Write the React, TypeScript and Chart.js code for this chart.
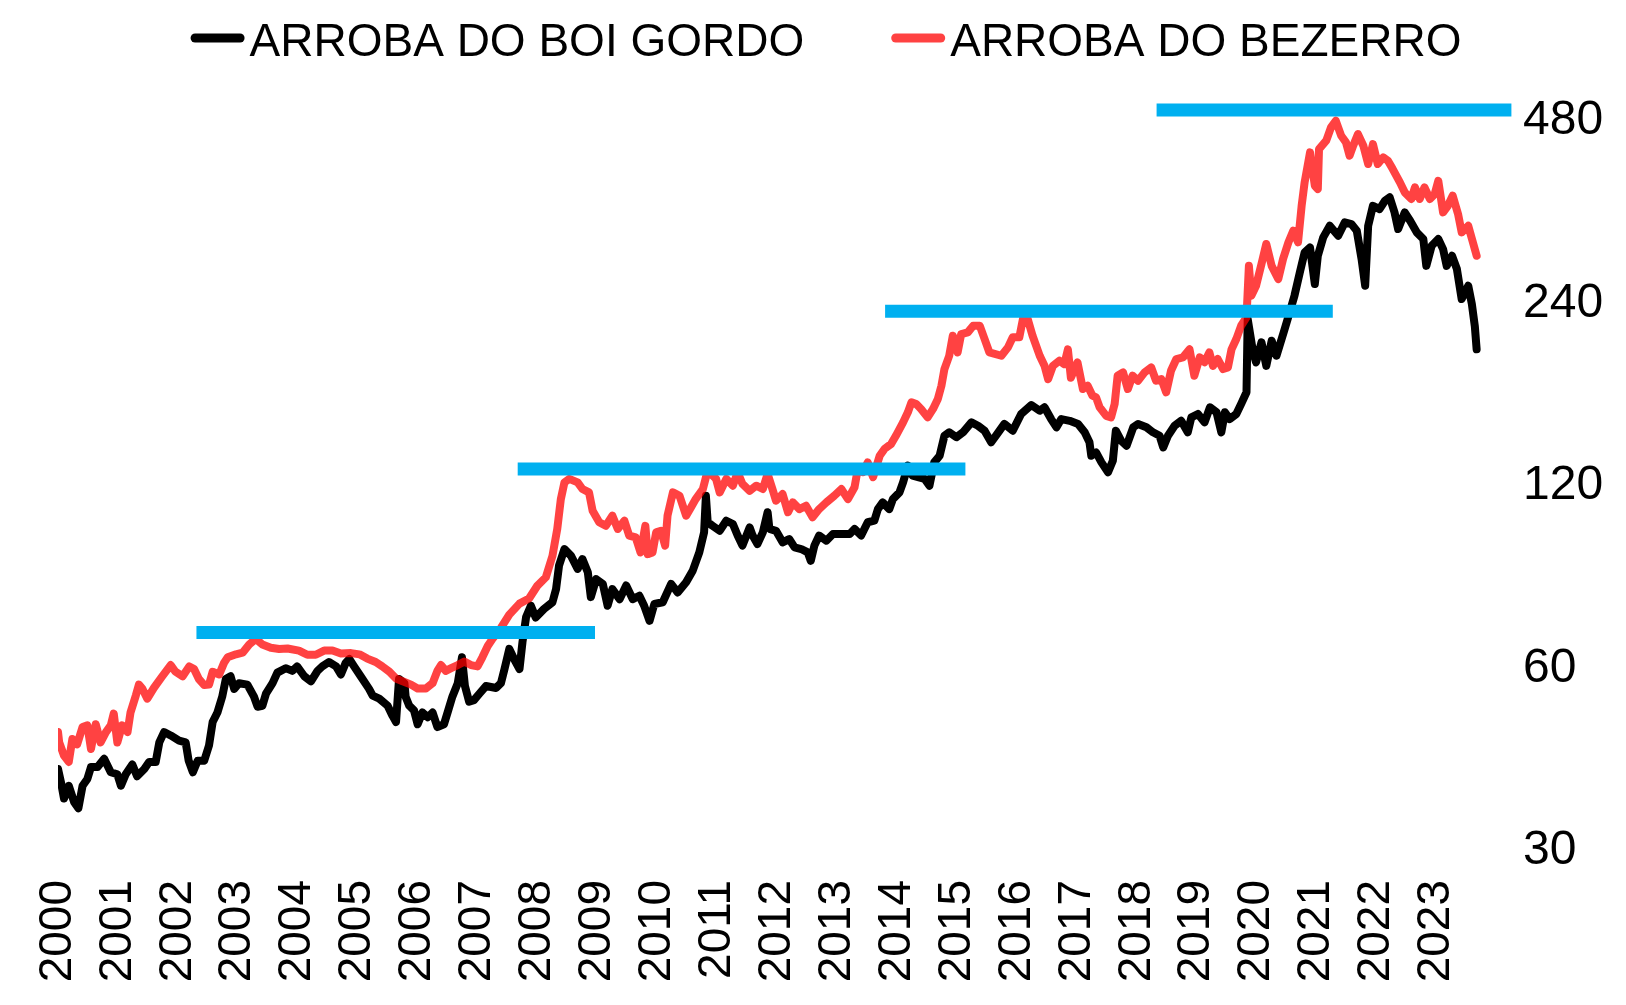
import React, { useEffect, useRef } from 'react';
import { Chart, registerables } from 'chart.js';

Chart.register(...registerables);

const FONT = '"Liberation Sans", Arial, Helvetica, sans-serif';

const seriesNames = ['ARROBA DO BOI GORDO', 'ARROBA DO BEZERRO'];
const seriesColors = ['#000000', 'rgba(255,0,0,0.74)'];
const levelColor = '#00B0F0';

const yearTicks = [2000, 2001, 2002, 2003, 2004, 2005, 2006, 2007, 2008, 2009, 2010, 2011,
  2012, 2013, 2014, 2015, 2016, 2017, 2018, 2019, 2020, 2021, 2022, 2023];
const yearLabels = ['2000', '2001', '2002', '2003', '2004', '2005', '2006', '2007', '2008', '2009',
  '2010', '2011', '2012', '2013', '2014', '2015', '2016', '2017', '2018', '2019', '2020', '2021',
  '2022', '2023'];
const yTickValues = [30, 60, 120, 240, 480];
const yTickLabels = ['30', '60', '120', '240', '480'];

// Arroba do boi gordo (R$)
const boiDates = [
  2000.00, 2000.05, 2000.10, 2000.18, 2000.27, 2000.34, 2000.41, 2000.49, 2000.55, 2000.66,
  2000.77, 2000.88, 2000.99, 2001.05, 2001.13, 2001.24, 2001.32, 2001.44, 2001.52, 2001.63,
  2001.69, 2001.77, 2001.88, 2002.02, 2002.13, 2002.18, 2002.25, 2002.33, 2002.44, 2002.52,
  2002.58, 2002.66, 2002.74, 2002.80, 2002.88, 2002.94, 2003.02, 2003.16, 2003.27, 2003.33,
  2003.41, 2003.47, 2003.58, 2003.66, 2003.80, 2003.91, 2003.99, 2004.11, 2004.22, 2004.33,
  2004.41, 2004.52, 2004.64, 2004.72, 2004.80, 2004.86, 2004.94, 2005.05, 2005.19, 2005.25,
  2005.36, 2005.50, 2005.58, 2005.64, 2005.69, 2005.78, 2005.80, 2005.86, 2005.94, 2006.00,
  2006.08, 2006.17, 2006.25, 2006.33, 2006.44, 2006.50, 2006.58, 2006.67, 2006.74, 2006.79,
  2006.86, 2006.94, 2007.03, 2007.14, 2007.31, 2007.39, 2007.45, 2007.53, 2007.61, 2007.70,
  2007.75, 2007.81, 2007.89, 2007.97, 2008.11, 2008.25, 2008.31, 2008.36, 2008.45, 2008.56,
  2008.67, 2008.75, 2008.84, 2008.89, 2008.98, 2009.09, 2009.17, 2009.25, 2009.37, 2009.48,
  2009.59, 2009.70, 2009.78, 2009.87, 2009.95, 2010.09, 2010.23, 2010.34, 2010.48, 2010.59,
  2010.70, 2010.78, 2010.81, 2010.84, 2010.92, 2011.04, 2011.15, 2011.26, 2011.34, 2011.42,
  2011.54, 2011.59, 2011.67, 2011.76, 2011.84, 2011.87, 2011.98, 2012.09, 2012.20, 2012.29,
  2012.40, 2012.51, 2012.56, 2012.62, 2012.70, 2012.82, 2012.93, 2013.07, 2013.21, 2013.29,
  2013.40, 2013.51, 2013.62, 2013.68, 2013.76, 2013.87, 2013.93, 2014.04, 2014.10, 2014.18,
  2014.26, 2014.35, 2014.46, 2014.54, 2014.62, 2014.71, 2014.79, 2014.87, 2014.99, 2015.10,
  2015.24, 2015.35, 2015.46, 2015.57, 2015.68, 2015.79, 2015.93, 2016.07, 2016.24, 2016.38,
  2016.46, 2016.57, 2016.66, 2016.74, 2016.88, 2017.02, 2017.13, 2017.21, 2017.24, 2017.32,
  2017.41, 2017.52, 2017.60, 2017.65, 2017.74, 2017.83, 2017.94, 2018.02, 2018.16, 2018.27,
  2018.38, 2018.44, 2018.52, 2018.63, 2018.74, 2018.85, 2018.91, 2019.02, 2019.13, 2019.22,
  2019.33, 2019.41, 2019.47, 2019.55, 2019.66, 2019.74, 2019.83, 2019.85, 2019.94, 2019.99,
  2020.08, 2020.16, 2020.25, 2020.33, 2020.45, 2020.55, 2020.63, 2020.72, 2020.80, 2020.89,
  2020.97, 2021.02, 2021.11, 2021.22, 2021.36, 2021.47, 2021.58, 2021.67, 2021.75, 2021.81,
  2021.86, 2021.94, 2022.05, 2022.14, 2022.22, 2022.30, 2022.36, 2022.47, 2022.56, 2022.67,
  2022.78, 2022.83, 2022.92, 2023.03, 2023.11, 2023.17, 2023.26, 2023.34, 2023.42, 2023.53,
  2023.59, 2023.64, 2023.67,
];
const boiValues = [
  40.5, 38.5, 36.2, 38.0, 35.7, 34.9, 38.0, 39.0, 40.8, 40.8,
  42.1, 40.0, 39.7, 38.0, 39.7, 41.2, 39.4, 40.5, 41.6, 41.6,
  44.8, 46.6, 46.0, 45.1, 44.8, 41.8, 40.0, 41.8, 41.8, 44.3,
  48.4, 50.2, 53.3, 57.0, 57.6, 54.9, 56.1, 55.8, 53.3, 51.3,
  51.5, 53.9, 56.1, 58.4, 59.4, 58.8, 59.8, 57.6, 56.5, 58.8,
  59.8, 60.8, 59.8, 58.0, 60.6, 61.5, 59.8, 57.6, 54.9, 53.5,
  52.9, 51.5, 49.6, 48.4, 57.0, 56.1, 53.3, 51.5, 50.6, 48.0,
  50.2, 49.3, 50.2, 47.5, 48.0, 50.2, 53.3, 56.1, 61.9, 55.5,
  52.3, 52.6, 53.9, 55.5, 55.1, 56.1, 59.2, 63.9, 61.5, 59.2,
  65.6, 72.1, 75.3, 72.0, 74.4, 76.3, 80.2, 87.7, 93.4, 91.0,
  86.6, 89.9, 85.5, 77.8, 83.3, 81.8, 75.3, 80.2, 77.2, 81.3,
  77.2, 78.2, 75.3, 71.1, 75.8, 76.3, 81.8, 79.2, 82.3, 86.0,
  92.2, 99.5, 114.3, 103.4, 102.0, 100.1, 104.0, 102.7, 98.3, 94.6,
  101.4, 98.3, 95.2, 99.5, 107.4, 100.8, 100.1, 95.8, 97.0, 94.0,
  93.4, 92.2, 89.3, 94.6, 98.3, 96.4, 98.9, 98.9, 98.9, 100.8,
  98.3, 103.4, 104.0, 108.7, 111.5, 108.7, 112.9, 115.8, 120.3, 128.2,
  123.4, 122.7, 121.9, 118.8, 129.8, 133.1, 143.6, 145.5, 142.8, 145.5,
  151.1, 149.2, 146.4, 140.1, 145.0, 150.2, 146.4, 156.0, 161.4, 157.9,
  160.0, 153.0, 148.3, 153.0, 152.0, 150.2, 145.5, 140.1, 133.1, 134.8,
  129.8, 125.0, 130.6, 146.4, 140.9, 138.3, 148.3, 150.2, 148.3, 145.5,
  143.6, 137.4, 143.6, 149.2, 152.0, 145.5, 154.0, 156.0, 151.1, 160.0,
  157.0, 145.5, 157.0, 153.0, 156.0, 162.0, 169.4, 223.7, 197.1, 189.8,
  204.8, 187.3, 206.0, 194.6, 212.7, 229.5, 244.4, 267.1, 288.2, 293.7,
  255.5, 284.5, 305.1, 318.8, 307.0, 323.0, 320.9, 312.9, 281.0, 253.9,
  318.8, 344.0, 339.7, 350.6, 355.2, 335.5, 314.9, 335.5, 325.0, 311.0,
  303.2, 273.8, 295.5, 303.2, 291.8, 273.8, 284.5, 270.6, 241.4, 253.9,
  236.8, 217.6, 199.4,
];

// Arroba do bezerro (R$)
const bezDates = [
  2000.00, 2000.02, 2000.10, 2000.18, 2000.24, 2000.32, 2000.41, 2000.49, 2000.55, 2000.63,
  2000.71, 2000.80, 2000.88, 2000.93, 2000.99, 2001.07, 2001.16, 2001.21, 2001.30, 2001.35,
  2001.41, 2001.49, 2001.60, 2001.74, 2001.88, 2001.96, 2002.08, 2002.19, 2002.27, 2002.35,
  2002.44, 2002.52, 2002.58, 2002.69, 2002.77, 2002.83, 2002.97, 2003.08, 2003.19, 2003.30,
  2003.41, 2003.55, 2003.69, 2003.83, 2004.02, 2004.16, 2004.30, 2004.44, 2004.58, 2004.72,
  2004.89, 2005.03, 2005.16, 2005.30, 2005.41, 2005.53, 2005.64, 2005.75, 2005.89, 2006.00,
  2006.14, 2006.25, 2006.33, 2006.39, 2006.47, 2006.56, 2006.67, 2006.78, 2006.89, 2007.00,
  2007.08, 2007.17, 2007.25, 2007.39, 2007.53, 2007.70, 2007.86, 2008.00, 2008.14, 2008.25,
  2008.33, 2008.39, 2008.45, 2008.53, 2008.67, 2008.75, 2008.86, 2008.92, 2009.03, 2009.14,
  2009.25, 2009.34, 2009.45, 2009.53, 2009.64, 2009.72, 2009.80, 2009.84, 2009.92, 2009.98,
  2010.06, 2010.13, 2010.17, 2010.26, 2010.37, 2010.48, 2010.56, 2010.64, 2010.76, 2010.84,
  2010.98, 2011.04, 2011.15, 2011.26, 2011.34, 2011.42, 2011.54, 2011.65, 2011.76, 2011.84,
  2011.92, 2011.98, 2012.09, 2012.18, 2012.26, 2012.37, 2012.48, 2012.59, 2012.70, 2012.82,
  2012.95, 2013.07, 2013.18, 2013.29, 2013.34, 2013.43, 2013.51, 2013.60, 2013.71, 2013.79,
  2013.90, 2013.98, 2014.10, 2014.18, 2014.24, 2014.32, 2014.40, 2014.51, 2014.60, 2014.68,
  2014.74, 2014.79, 2014.87, 2014.93, 2015.01, 2015.07, 2015.18, 2015.27, 2015.38, 2015.46,
  2015.54, 2015.74, 2015.85, 2015.93, 2016.04, 2016.10, 2016.18, 2016.26, 2016.38, 2016.46,
  2016.52, 2016.60, 2016.71, 2016.79, 2016.85, 2016.90, 2017.01, 2017.10, 2017.18, 2017.26,
  2017.32, 2017.38, 2017.49, 2017.57, 2017.63, 2017.68, 2017.77, 2017.85, 2017.93, 2018.02,
  2018.13, 2018.24, 2018.32, 2018.41, 2018.49, 2018.57, 2018.66, 2018.77, 2018.88, 2018.96,
  2019.05, 2019.13, 2019.21, 2019.27, 2019.35, 2019.44, 2019.52, 2019.58, 2019.66, 2019.74,
  2019.83, 2019.87, 2019.91, 2019.99, 2020.08, 2020.16, 2020.25, 2020.36, 2020.44, 2020.53,
  2020.61, 2020.69, 2020.75, 2020.80, 2020.89, 2020.97, 2021.02, 2021.04, 2021.16, 2021.24,
  2021.32, 2021.41, 2021.49, 2021.55, 2021.61, 2021.69, 2021.78, 2021.86, 2021.94, 2022.02,
  2022.11, 2022.19, 2022.27, 2022.39, 2022.47, 2022.58, 2022.64, 2022.72, 2022.80, 2022.89,
  2022.97, 2023.03, 2023.11, 2023.19, 2023.27, 2023.36, 2023.42, 2023.53, 2023.60, 2023.67,
];
const bezValues = [
  46.6, 44.8, 42.6, 41.6, 45.4, 44.5, 47.5, 47.8, 43.7, 48.0,
  44.8, 46.6, 47.8, 50.0, 44.8, 47.8, 46.6, 50.2, 53.6, 55.8,
  54.9, 52.9, 55.1, 57.6, 60.1, 58.6, 57.6, 59.8, 59.2, 57.0,
  55.7, 55.8, 58.6, 58.0, 60.6, 61.9, 62.6, 63.0, 65.0, 66.4,
  65.0, 64.2, 63.9, 64.0, 63.5, 62.5, 62.5, 63.5, 63.5, 62.8,
  62.9, 62.6, 61.6, 60.8, 59.8, 58.6, 57.1, 56.5, 55.8, 55.0,
  55.0, 56.1, 58.8, 60.1, 58.8, 59.4, 60.1, 60.9, 60.1, 59.8,
  61.9, 64.6, 66.4, 69.2, 72.8, 75.9, 77.4, 81.3, 83.9, 91.0,
  100.8, 112.9, 120.3, 121.9, 120.3, 117.3, 115.8, 108.0, 103.4, 102.0,
  106.0, 100.8, 104.0, 98.3, 97.6, 92.2, 102.0, 91.6, 92.2, 99.5,
  100.1, 94.6, 106.0, 115.8, 114.3, 106.0, 109.4, 112.9, 117.3, 125.8,
  121.9, 115.8, 121.9, 118.8, 125.0, 119.6, 116.5, 118.8, 117.3, 124.2,
  117.3, 112.2, 115.1, 107.4, 111.5, 108.7, 110.1, 105.4, 108.7, 111.5,
  114.3, 117.3, 112.9, 118.1, 125.8, 125.0, 129.8, 122.7, 133.1, 136.6,
  139.2, 143.6, 151.1, 157.0, 163.1, 162.0, 159.0, 154.0, 159.0, 165.1,
  173.7, 185.0, 194.6, 210.0, 197.1, 211.3, 212.7, 218.1, 218.1, 207.4,
  197.1, 194.6, 200.9, 208.7, 208.7, 223.7, 223.7, 210.0, 194.6, 187.3,
  178.1, 187.3, 191.0, 188.5, 199.4, 179.0, 189.8, 171.5, 173.7, 167.2,
  166.1, 160.0, 154.9, 154.0, 162.0, 180.4, 182.7, 171.5, 180.4, 177.0,
  182.7, 186.2, 177.0, 178.1, 169.4, 183.8, 192.2, 193.4, 199.4, 180.4,
  193.4, 189.8, 197.1, 187.3, 192.2, 185.0, 186.2, 199.4, 207.4, 218.1,
  225.2, 273.8, 244.4, 253.9, 275.7, 297.5, 273.8, 260.4, 281.0, 299.4,
  312.9, 299.4, 344.0, 376.0, 421.4, 371.2, 366.5, 426.7, 440.4, 463.3,
  475.1, 448.8, 437.7, 416.0, 432.1, 451.7, 432.1, 403.1, 434.8, 403.1,
  413.4, 408.2, 395.5, 376.0, 362.0, 353.0, 368.9, 353.0, 368.9, 353.0,
  359.6, 378.3, 335.5, 344.0, 357.4, 333.4, 311.0, 318.8, 301.2, 284.5,
];

// Horizontal price levels (blue bars)
const levelStarts = [2002.31, 2007.67, 2013.80, 2018.33];
const levelEnds = [2008.96, 2015.14, 2021.27, 2024.25];
const levelValues = [68.0, 126.6, 230.4, 494.8];

const X_MIN = 2000;
const X_MAX = 2024.31;
const Y_MIN = 30;
const Y_MAX = 520;

const legendPlugin = {
  id: 'topLegend',
  afterDraw(chart: any) {
    const ctx = chart.ctx as CanvasRenderingContext2D;
    const markW = 54;
    const markGap = 5;
    const itemGap = 87;
    const centerX = 826;
    const markY = 38;
    const baseY = 56;
    ctx.save();
    ctx.font = `46px ${FONT}`;
    const widths = seriesNames.map((n) => ctx.measureText(n).width);
    const total = widths.reduce((a, b) => a + b, 0) + seriesNames.length * (markW + markGap) + (seriesNames.length - 1) * itemGap;
    let x = centerX - total / 2;
    seriesNames.forEach((name, i) => {
      ctx.strokeStyle = seriesColors[i];
      ctx.lineWidth = 9;
      ctx.lineCap = 'round';
      ctx.beginPath();
      ctx.moveTo(x + 4.5, markY);
      ctx.lineTo(x + markW - 4.5, markY);
      ctx.stroke();
      x += markW + markGap;
      ctx.fillStyle = '#000000';
      ctx.textAlign = 'left';
      ctx.textBaseline = 'alphabetic';
      ctx.fillText(name, x, baseY);
      x += widths[i] + itemGap;
    });
    ctx.restore();
  },
};

export default function App() {
  const canvasRef = useRef<HTMLCanvasElement | null>(null);

  useEffect(() => {
    const canvas = canvasRef.current;
    if (!canvas) return;

    const levelDatasets = levelValues.map((v, i) => ({
      label: 'nível ' + (i + 1),
      data: [{ x: levelStarts[i], y: v }, { x: levelEnds[i], y: v }],
      borderColor: levelColor,
      borderWidth: 13,
      borderCapStyle: 'butt' as const,
      pointRadius: 0,
      order: 0,
    }));

    const chart = new Chart(canvas, {
      type: 'line',
      data: {
        datasets: [
          ...levelDatasets,
          {
            label: seriesNames[1],
            data: bezDates.map((t, i) => ({ x: t, y: bezValues[i] })),
            borderColor: seriesColors[1],
            borderWidth: 8,
            borderJoinStyle: 'round',
            borderCapStyle: 'round',
            pointRadius: 0,
            tension: 0,
            order: 1,
          },
          {
            label: seriesNames[0],
            data: boiDates.map((t, i) => ({ x: t, y: boiValues[i] })),
            borderColor: seriesColors[0],
            borderWidth: 8,
            borderJoinStyle: 'round',
            borderCapStyle: 'round',
            pointRadius: 0,
            tension: 0,
            order: 2,
          },
        ] as any,
      },
      options: {
        animation: false,
        responsive: false,
        maintainAspectRatio: false,
        events: [],
        layout: { padding: { top: 97, left: 58, right: 0, bottom: 0 } },
        plugins: {
          legend: { display: false },
          tooltip: { enabled: false },
          title: { display: false },
        },
        scales: {
          x: {
            type: 'linear',
            min: X_MIN,
            max: X_MAX,
            afterBuildTicks: (scale: any) => {
              scale.ticks = yearTicks.map((v) => ({ value: v }));
            },
            afterFit: (scale: any) => {
              scale.height = 157;
            },
            grid: { display: false, drawTicks: false },
            border: { display: false },
            ticks: {
              autoSkip: false,
              minRotation: 90,
              maxRotation: 90,
              padding: 32,
              color: '#000000',
              font: { size: 46, family: FONT },
              callback: (_v: any, i: number) => yearLabels[i],
            },
          },
          y: {
            type: 'logarithmic',
            position: 'right',
            min: Y_MIN,
            max: Y_MAX,
            afterBuildTicks: (scale: any) => {
              scale.ticks = yTickValues.map((v) => ({ value: v }));
            },
            afterFit: (scale: any) => {
              scale.width = 111;
            },
            grid: { display: false, drawTicks: false },
            border: { display: false },
            ticks: {
              autoSkip: false,
              padding: 8,
              labelOffset: 3,
              color: '#000000',
              font: { size: 48, family: FONT },
              callback: (_v: any, i: number) => yTickLabels[i],
            },
          },
        },
      } as any,
      plugins: [legendPlugin],
    });

    return () => {
      chart.destroy();
    };
  }, []);

  return (
    <div style={{ position: 'absolute', left: 0, top: 0, width: 1626, height: 1005, background: '#ffffff' }}>
      <canvas ref={canvasRef} width={1626} height={1005} style={{ display: 'block', width: 1626, height: 1005 }} />
    </div>
  );
}
